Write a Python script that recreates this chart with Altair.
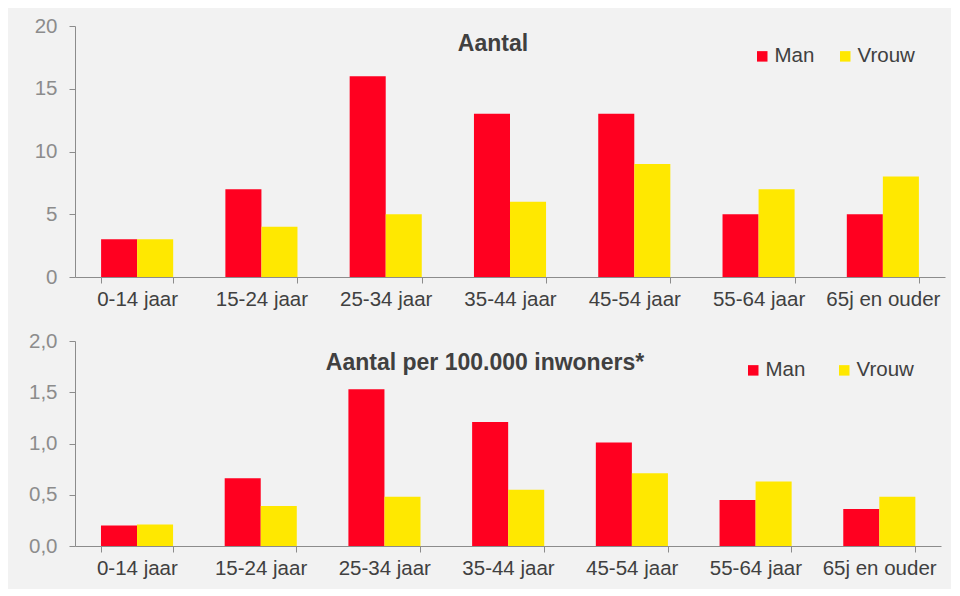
import altair as alt
import pandas as pd

categories = ["0-14 jaar", "15-24 jaar", "25-34 jaar", "35-44 jaar", "45-54 jaar", "55-64 jaar", "65j en ouder"]
series = ["Man", "Vrouw"]
man_aantal = [3, 7, 16, 13, 13, 5, 5]
vrouw_aantal = [3, 4, 5, 6, 9, 7, 8]
man_per100k = [0.20, 0.66, 1.53, 1.21, 1.01, 0.45, 0.36]
vrouw_per100k = [0.21, 0.39, 0.48, 0.55, 0.71, 0.63, 0.48]
colors = ["#ff0020", "#ffe800"]

FONT = "Liberation Sans"
LBL = 20.5


def long_df(m, v):
    rows = []
    for c, a, b in zip(categories, m, v):
        rows.append({"cat": c, "geslacht": "Man", "waarde": a})
        rows.append({"cat": c, "geslacht": "Vrouw", "waarde": b})
    return pd.DataFrame(rows)


def panel(df, title, ymax, ystep, fmt_expr, w, h, lx, ly, colpad, tx, ty):
    xaxis = alt.Axis(title=None, labelAngle=0, tickBand="extent", domainColor="#8c8c8c",
                     tickColor="#8c8c8c", tickSize=6, labelFont=FONT, labelFontSize=LBL,
                     labelColor="#404040", labelPadding=6, grid=False)
    yaxis = alt.Axis(title=None, values=[ystep * i for i in range(5)], domainColor="#8c8c8c",
                     tickColor="#8c8c8c", tickSize=6, labelFont=FONT, labelFontSize=LBL,
                     labelColor="#8c8c8c", labelPadding=12, grid=False, labelExpr=fmt_expr)
    bars = alt.Chart(df).mark_bar().encode(
        x=alt.X("cat:N", sort=categories, axis=xaxis,
                scale=alt.Scale(paddingInner=0.42, paddingOuter=0.21)),
        xOffset=alt.XOffset("geslacht:N", sort=series),
        y=alt.Y("waarde:Q", axis=yaxis, scale=alt.Scale(domain=[0, ymax], nice=False)),
        color=alt.Color("geslacht:N", sort=series,
                        scale=alt.Scale(domain=series, range=colors),
                        legend=alt.Legend(title=None, orient="none", legendX=lx, legendY=ly,
                                          direction="horizontal", symbolType="square",
                                          symbolSize=110, symbolStrokeWidth=0,
                                          labelFont=FONT, labelFontSize=LBL,
                                          labelColor="#404040", columnPadding=colpad,
                                          labelOffset=2, padding=0)),
    )
    ttl = alt.Chart(pd.DataFrame({"t": [title]})).mark_text(
        font=FONT, fontSize=23, fontWeight="bold", color="#404040", align="center", baseline="middle"
    ).encode(text="t:N", x=alt.value(tx), y=alt.value(ty))
    return alt.layer(bars, ttl).properties(width=w, height=h)


top = panel(long_df(man_aantal, vrouw_aantal), "Aantal", 20, 5, "format(datum.value, 'd')",
            870, 251, 677, 20, 20, 418, 18)
bottom = panel(long_df(man_per100k, vrouw_per100k), "Aantal per 100.000 inwoners*", 2.0, 0.5,
               "replace(format(datum.value, '.1f'), '.', ',')",
               866, 205, 668, 19, 28, 410, 22)

chart = alt.vconcat(top, bottom, spacing=21, background="#f2f2f2",
                    padding={"left": 20, "top": 8, "right": 6, "bottom": 10}).resolve_scale(
    y="independent", color="independent").configure_view(stroke=None)

chart.save("out.html", embed_options={"renderer": "svg", "actions": False})
